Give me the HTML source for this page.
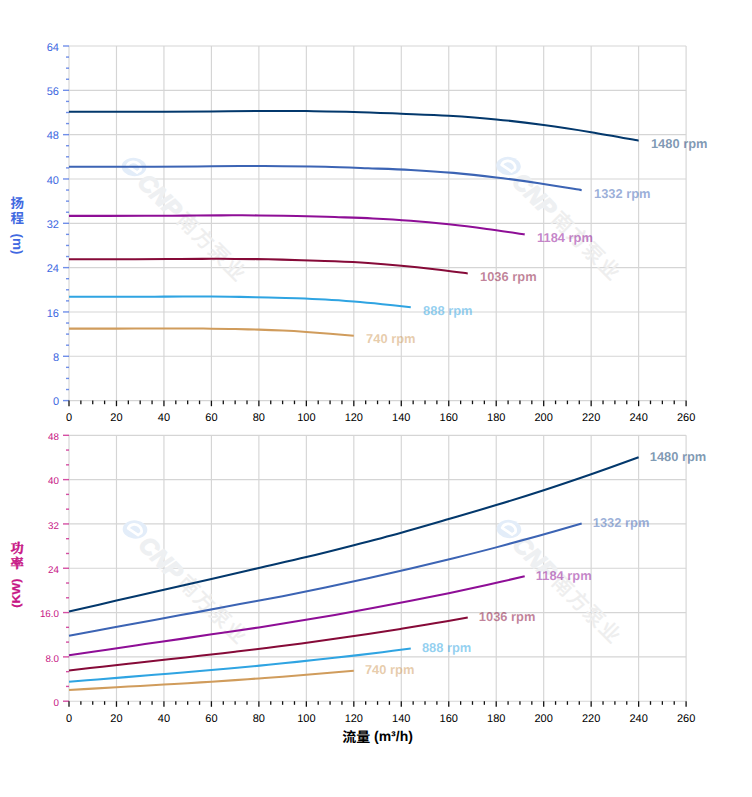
<!DOCTYPE html>
<html><head><meta charset="utf-8"><title>Pump curves</title>
<style>html,body{margin:0;padding:0;background:#fff;}body{width:752px;height:797px;overflow:hidden;}svg{display:block;}text{font-family:"Liberation Sans","Noto Sans CJK SC",sans-serif;text-rendering:geometricPrecision;}</style>
</head><body>
<svg width="752" height="797" viewBox="0 0 752 797">
<rect width="752" height="797" fill="#fff"/>
<line x1="69" y1="46" x2="686.1" y2="46" stroke="#d5d5d5" stroke-width="1.15"/>
<line x1="69" y1="90.33" x2="686.1" y2="90.33" stroke="#d5d5d5" stroke-width="1.15"/>
<line x1="69" y1="134.65" x2="686.1" y2="134.65" stroke="#d5d5d5" stroke-width="1.15"/>
<line x1="69" y1="178.98" x2="686.1" y2="178.98" stroke="#d5d5d5" stroke-width="1.15"/>
<line x1="69" y1="223.3" x2="686.1" y2="223.3" stroke="#d5d5d5" stroke-width="1.15"/>
<line x1="69" y1="267.62" x2="686.1" y2="267.62" stroke="#d5d5d5" stroke-width="1.15"/>
<line x1="69" y1="311.95" x2="686.1" y2="311.95" stroke="#d5d5d5" stroke-width="1.15"/>
<line x1="69" y1="356.28" x2="686.1" y2="356.28" stroke="#d5d5d5" stroke-width="1.15"/>
<line x1="69" y1="400.6" x2="686.1" y2="400.6" stroke="#d5d5d5" stroke-width="1.15"/>
<line x1="69" y1="46" x2="69" y2="400.6" stroke="#d5d5d5" stroke-width="1.15"/>
<line x1="116.47" y1="46" x2="116.47" y2="400.6" stroke="#d5d5d5" stroke-width="1.15"/>
<line x1="163.94" y1="46" x2="163.94" y2="400.6" stroke="#d5d5d5" stroke-width="1.15"/>
<line x1="211.41" y1="46" x2="211.41" y2="400.6" stroke="#d5d5d5" stroke-width="1.15"/>
<line x1="258.88" y1="46" x2="258.88" y2="400.6" stroke="#d5d5d5" stroke-width="1.15"/>
<line x1="306.35" y1="46" x2="306.35" y2="400.6" stroke="#d5d5d5" stroke-width="1.15"/>
<line x1="353.82" y1="46" x2="353.82" y2="400.6" stroke="#d5d5d5" stroke-width="1.15"/>
<line x1="401.28" y1="46" x2="401.28" y2="400.6" stroke="#d5d5d5" stroke-width="1.15"/>
<line x1="448.75" y1="46" x2="448.75" y2="400.6" stroke="#d5d5d5" stroke-width="1.15"/>
<line x1="496.22" y1="46" x2="496.22" y2="400.6" stroke="#d5d5d5" stroke-width="1.15"/>
<line x1="543.69" y1="46" x2="543.69" y2="400.6" stroke="#d5d5d5" stroke-width="1.15"/>
<line x1="591.16" y1="46" x2="591.16" y2="400.6" stroke="#d5d5d5" stroke-width="1.15"/>
<line x1="638.63" y1="46" x2="638.63" y2="400.6" stroke="#d5d5d5" stroke-width="1.15"/>
<line x1="686.1" y1="46" x2="686.1" y2="400.6" stroke="#d5d5d5" stroke-width="1.15"/>
<line x1="63" y1="46" x2="69" y2="46" stroke="#4169E1" stroke-width="1.4" stroke-opacity="0.75"/>
<text x="59" y="50.7" font-size="11" text-anchor="end" fill="#4169E1">64</text>
<line x1="66" y1="57.08" x2="69" y2="57.08" stroke="#4169E1" stroke-width="1.4" stroke-opacity="0.75"/>
<line x1="66" y1="68.16" x2="69" y2="68.16" stroke="#4169E1" stroke-width="1.4" stroke-opacity="0.75"/>
<line x1="66" y1="79.24" x2="69" y2="79.24" stroke="#4169E1" stroke-width="1.4" stroke-opacity="0.75"/>
<line x1="63" y1="90.33" x2="69" y2="90.33" stroke="#4169E1" stroke-width="1.4" stroke-opacity="0.75"/>
<text x="59" y="95.03" font-size="11" text-anchor="end" fill="#4169E1">56</text>
<line x1="66" y1="101.41" x2="69" y2="101.41" stroke="#4169E1" stroke-width="1.4" stroke-opacity="0.75"/>
<line x1="66" y1="112.49" x2="69" y2="112.49" stroke="#4169E1" stroke-width="1.4" stroke-opacity="0.75"/>
<line x1="66" y1="123.57" x2="69" y2="123.57" stroke="#4169E1" stroke-width="1.4" stroke-opacity="0.75"/>
<line x1="63" y1="134.65" x2="69" y2="134.65" stroke="#4169E1" stroke-width="1.4" stroke-opacity="0.75"/>
<text x="59" y="139.35" font-size="11" text-anchor="end" fill="#4169E1">48</text>
<line x1="66" y1="145.73" x2="69" y2="145.73" stroke="#4169E1" stroke-width="1.4" stroke-opacity="0.75"/>
<line x1="66" y1="156.81" x2="69" y2="156.81" stroke="#4169E1" stroke-width="1.4" stroke-opacity="0.75"/>
<line x1="66" y1="167.89" x2="69" y2="167.89" stroke="#4169E1" stroke-width="1.4" stroke-opacity="0.75"/>
<line x1="63" y1="178.98" x2="69" y2="178.98" stroke="#4169E1" stroke-width="1.4" stroke-opacity="0.75"/>
<text x="59" y="183.68" font-size="11" text-anchor="end" fill="#4169E1">40</text>
<line x1="66" y1="190.06" x2="69" y2="190.06" stroke="#4169E1" stroke-width="1.4" stroke-opacity="0.75"/>
<line x1="66" y1="201.14" x2="69" y2="201.14" stroke="#4169E1" stroke-width="1.4" stroke-opacity="0.75"/>
<line x1="66" y1="212.22" x2="69" y2="212.22" stroke="#4169E1" stroke-width="1.4" stroke-opacity="0.75"/>
<line x1="63" y1="223.3" x2="69" y2="223.3" stroke="#4169E1" stroke-width="1.4" stroke-opacity="0.75"/>
<text x="59" y="228" font-size="11" text-anchor="end" fill="#4169E1">32</text>
<line x1="66" y1="234.38" x2="69" y2="234.38" stroke="#4169E1" stroke-width="1.4" stroke-opacity="0.75"/>
<line x1="66" y1="245.46" x2="69" y2="245.46" stroke="#4169E1" stroke-width="1.4" stroke-opacity="0.75"/>
<line x1="66" y1="256.54" x2="69" y2="256.54" stroke="#4169E1" stroke-width="1.4" stroke-opacity="0.75"/>
<line x1="63" y1="267.62" x2="69" y2="267.62" stroke="#4169E1" stroke-width="1.4" stroke-opacity="0.75"/>
<text x="59" y="272.32" font-size="11" text-anchor="end" fill="#4169E1">24</text>
<line x1="66" y1="278.71" x2="69" y2="278.71" stroke="#4169E1" stroke-width="1.4" stroke-opacity="0.75"/>
<line x1="66" y1="289.79" x2="69" y2="289.79" stroke="#4169E1" stroke-width="1.4" stroke-opacity="0.75"/>
<line x1="66" y1="300.87" x2="69" y2="300.87" stroke="#4169E1" stroke-width="1.4" stroke-opacity="0.75"/>
<line x1="63" y1="311.95" x2="69" y2="311.95" stroke="#4169E1" stroke-width="1.4" stroke-opacity="0.75"/>
<text x="59" y="316.65" font-size="11" text-anchor="end" fill="#4169E1">16</text>
<line x1="66" y1="323.03" x2="69" y2="323.03" stroke="#4169E1" stroke-width="1.4" stroke-opacity="0.75"/>
<line x1="66" y1="334.11" x2="69" y2="334.11" stroke="#4169E1" stroke-width="1.4" stroke-opacity="0.75"/>
<line x1="66" y1="345.19" x2="69" y2="345.19" stroke="#4169E1" stroke-width="1.4" stroke-opacity="0.75"/>
<line x1="63" y1="356.28" x2="69" y2="356.28" stroke="#4169E1" stroke-width="1.4" stroke-opacity="0.75"/>
<text x="59" y="360.98" font-size="11" text-anchor="end" fill="#4169E1">8</text>
<line x1="66" y1="367.36" x2="69" y2="367.36" stroke="#4169E1" stroke-width="1.4" stroke-opacity="0.75"/>
<line x1="66" y1="378.44" x2="69" y2="378.44" stroke="#4169E1" stroke-width="1.4" stroke-opacity="0.75"/>
<line x1="66" y1="389.52" x2="69" y2="389.52" stroke="#4169E1" stroke-width="1.4" stroke-opacity="0.75"/>
<line x1="63" y1="400.6" x2="69" y2="400.6" stroke="#4169E1" stroke-width="1.4" stroke-opacity="0.75"/>
<text x="59" y="405.3" font-size="11" text-anchor="end" fill="#4169E1">0</text>
<line x1="69" y1="400.6" x2="69" y2="406.2" stroke="#111" stroke-width="1.3"/>
<text x="69" y="421" font-size="11" text-anchor="middle" fill="#000">0</text>
<line x1="80.87" y1="400.6" x2="80.87" y2="404.2" stroke="#111" stroke-width="1.3"/>
<line x1="92.73" y1="400.6" x2="92.73" y2="404.2" stroke="#111" stroke-width="1.3"/>
<line x1="104.6" y1="400.6" x2="104.6" y2="404.2" stroke="#111" stroke-width="1.3"/>
<line x1="116.47" y1="400.6" x2="116.47" y2="406.2" stroke="#111" stroke-width="1.3"/>
<text x="116.47" y="421" font-size="11" text-anchor="middle" fill="#000">20</text>
<line x1="128.34" y1="400.6" x2="128.34" y2="404.2" stroke="#111" stroke-width="1.3"/>
<line x1="140.2" y1="400.6" x2="140.2" y2="404.2" stroke="#111" stroke-width="1.3"/>
<line x1="152.07" y1="400.6" x2="152.07" y2="404.2" stroke="#111" stroke-width="1.3"/>
<line x1="163.94" y1="400.6" x2="163.94" y2="406.2" stroke="#111" stroke-width="1.3"/>
<text x="163.94" y="421" font-size="11" text-anchor="middle" fill="#000">40</text>
<line x1="175.81" y1="400.6" x2="175.81" y2="404.2" stroke="#111" stroke-width="1.3"/>
<line x1="187.67" y1="400.6" x2="187.67" y2="404.2" stroke="#111" stroke-width="1.3"/>
<line x1="199.54" y1="400.6" x2="199.54" y2="404.2" stroke="#111" stroke-width="1.3"/>
<line x1="211.41" y1="400.6" x2="211.41" y2="406.2" stroke="#111" stroke-width="1.3"/>
<text x="211.41" y="421" font-size="11" text-anchor="middle" fill="#000">60</text>
<line x1="223.28" y1="400.6" x2="223.28" y2="404.2" stroke="#111" stroke-width="1.3"/>
<line x1="235.14" y1="400.6" x2="235.14" y2="404.2" stroke="#111" stroke-width="1.3"/>
<line x1="247.01" y1="400.6" x2="247.01" y2="404.2" stroke="#111" stroke-width="1.3"/>
<line x1="258.88" y1="400.6" x2="258.88" y2="406.2" stroke="#111" stroke-width="1.3"/>
<text x="258.88" y="421" font-size="11" text-anchor="middle" fill="#000">80</text>
<line x1="270.74" y1="400.6" x2="270.74" y2="404.2" stroke="#111" stroke-width="1.3"/>
<line x1="282.61" y1="400.6" x2="282.61" y2="404.2" stroke="#111" stroke-width="1.3"/>
<line x1="294.48" y1="400.6" x2="294.48" y2="404.2" stroke="#111" stroke-width="1.3"/>
<line x1="306.35" y1="400.6" x2="306.35" y2="406.2" stroke="#111" stroke-width="1.3"/>
<text x="306.35" y="421" font-size="11" text-anchor="middle" fill="#000">100</text>
<line x1="318.21" y1="400.6" x2="318.21" y2="404.2" stroke="#111" stroke-width="1.3"/>
<line x1="330.08" y1="400.6" x2="330.08" y2="404.2" stroke="#111" stroke-width="1.3"/>
<line x1="341.95" y1="400.6" x2="341.95" y2="404.2" stroke="#111" stroke-width="1.3"/>
<line x1="353.82" y1="400.6" x2="353.82" y2="406.2" stroke="#111" stroke-width="1.3"/>
<text x="353.82" y="421" font-size="11" text-anchor="middle" fill="#000">120</text>
<line x1="365.68" y1="400.6" x2="365.68" y2="404.2" stroke="#111" stroke-width="1.3"/>
<line x1="377.55" y1="400.6" x2="377.55" y2="404.2" stroke="#111" stroke-width="1.3"/>
<line x1="389.42" y1="400.6" x2="389.42" y2="404.2" stroke="#111" stroke-width="1.3"/>
<line x1="401.28" y1="400.6" x2="401.28" y2="406.2" stroke="#111" stroke-width="1.3"/>
<text x="401.28" y="421" font-size="11" text-anchor="middle" fill="#000">140</text>
<line x1="413.15" y1="400.6" x2="413.15" y2="404.2" stroke="#111" stroke-width="1.3"/>
<line x1="425.02" y1="400.6" x2="425.02" y2="404.2" stroke="#111" stroke-width="1.3"/>
<line x1="436.89" y1="400.6" x2="436.89" y2="404.2" stroke="#111" stroke-width="1.3"/>
<line x1="448.75" y1="400.6" x2="448.75" y2="406.2" stroke="#111" stroke-width="1.3"/>
<text x="448.75" y="421" font-size="11" text-anchor="middle" fill="#000">160</text>
<line x1="460.62" y1="400.6" x2="460.62" y2="404.2" stroke="#111" stroke-width="1.3"/>
<line x1="472.49" y1="400.6" x2="472.49" y2="404.2" stroke="#111" stroke-width="1.3"/>
<line x1="484.36" y1="400.6" x2="484.36" y2="404.2" stroke="#111" stroke-width="1.3"/>
<line x1="496.22" y1="400.6" x2="496.22" y2="406.2" stroke="#111" stroke-width="1.3"/>
<text x="496.22" y="421" font-size="11" text-anchor="middle" fill="#000">180</text>
<line x1="508.09" y1="400.6" x2="508.09" y2="404.2" stroke="#111" stroke-width="1.3"/>
<line x1="519.96" y1="400.6" x2="519.96" y2="404.2" stroke="#111" stroke-width="1.3"/>
<line x1="531.83" y1="400.6" x2="531.83" y2="404.2" stroke="#111" stroke-width="1.3"/>
<line x1="543.69" y1="400.6" x2="543.69" y2="406.2" stroke="#111" stroke-width="1.3"/>
<text x="543.69" y="421" font-size="11" text-anchor="middle" fill="#000">200</text>
<line x1="555.56" y1="400.6" x2="555.56" y2="404.2" stroke="#111" stroke-width="1.3"/>
<line x1="567.43" y1="400.6" x2="567.43" y2="404.2" stroke="#111" stroke-width="1.3"/>
<line x1="579.29" y1="400.6" x2="579.29" y2="404.2" stroke="#111" stroke-width="1.3"/>
<line x1="591.16" y1="400.6" x2="591.16" y2="406.2" stroke="#111" stroke-width="1.3"/>
<text x="591.16" y="421" font-size="11" text-anchor="middle" fill="#000">220</text>
<line x1="603.03" y1="400.6" x2="603.03" y2="404.2" stroke="#111" stroke-width="1.3"/>
<line x1="614.9" y1="400.6" x2="614.9" y2="404.2" stroke="#111" stroke-width="1.3"/>
<line x1="626.76" y1="400.6" x2="626.76" y2="404.2" stroke="#111" stroke-width="1.3"/>
<line x1="638.63" y1="400.6" x2="638.63" y2="406.2" stroke="#111" stroke-width="1.3"/>
<text x="638.63" y="421" font-size="11" text-anchor="middle" fill="#000">240</text>
<line x1="650.5" y1="400.6" x2="650.5" y2="404.2" stroke="#111" stroke-width="1.3"/>
<line x1="662.37" y1="400.6" x2="662.37" y2="404.2" stroke="#111" stroke-width="1.3"/>
<line x1="674.23" y1="400.6" x2="674.23" y2="404.2" stroke="#111" stroke-width="1.3"/>
<line x1="686.1" y1="400.6" x2="686.1" y2="406.2" stroke="#111" stroke-width="1.3"/>
<text x="686.1" y="421" font-size="11" text-anchor="middle" fill="#000">260</text>
<g transform="translate(134 167) rotate(45)"><g transform="skewX(-17)"><circle cx="0" cy="0" r="10.6" fill="#e3edf9"/></g><path d="M6.2 1.7 L-5.7 4.0 C-7.6 -1 -3 -5.6 1.5 -5.4 C5 -5.2 7.6 -3 6.4 0.0" fill="none" stroke="#fff" stroke-width="2.7" stroke-linecap="round" stroke-linejoin="round"/><text x="13.5" y="10.2" font-size="24" font-weight="bold" font-style="italic" fill="#eef0f2" stroke="#eef0f2" stroke-width="1.3" letter-spacing="0">CNP</text><text x="67.8 89.8 111.8 133.8" y="8.8" font-size="20.4" fill="#eeeeee" stroke="#eeeeee" stroke-width="0.45" stroke-linejoin="round">南方泵业</text></g>
<g transform="translate(508.5 166) rotate(45)"><g transform="skewX(-17)"><circle cx="0" cy="0" r="10.6" fill="#e3edf9"/></g><path d="M6.2 1.7 L-5.7 4.0 C-7.6 -1 -3 -5.6 1.5 -5.4 C5 -5.2 7.6 -3 6.4 0.0" fill="none" stroke="#fff" stroke-width="2.7" stroke-linecap="round" stroke-linejoin="round"/><text x="13.5" y="10.2" font-size="24" font-weight="bold" font-style="italic" fill="#eef0f2" stroke="#eef0f2" stroke-width="1.3" letter-spacing="0">CNP</text><text x="67.8 89.8 111.8 133.8" y="8.8" font-size="20.4" fill="#eeeeee" stroke="#eeeeee" stroke-width="0.45" stroke-linejoin="round">南方泵业</text></g>
<path d="M69 111.8 C76.91 111.8 100.65 111.81 116.47 111.8 C132.29 111.79 148.12 111.82 163.94 111.75 C179.76 111.68 195.58 111.53 211.41 111.4 C227.23 111.28 247.41 111.08 258.88 111 C270.35 110.92 272.33 110.88 280.24 110.9 C288.15 110.92 294.08 110.93 306.35 111.1 C318.61 111.27 337.99 111.47 353.82 111.9 C369.64 112.33 385.46 113.05 401.28 113.7 C417.11 114.35 432.93 114.85 448.75 115.8 C464.58 116.75 480.4 117.87 496.22 119.4 C512.05 120.93 527.87 122.87 543.69 125 C559.52 127.13 575.34 129.58 591.16 132.2 C606.98 134.82 630.72 139.28 638.63 140.7" fill="none" stroke="#03386C" stroke-width="2.05" stroke-linecap="butt"/>
<text x="650.93" y="148.1" font-size="12.9" font-weight="bold" fill="#03386C" fill-opacity="0.52">1480 rpm</text>
<path d="M69 166.73 C76.12 166.73 97.48 166.74 111.72 166.73 C125.96 166.72 140.2 166.74 154.44 166.69 C168.69 166.63 182.93 166.51 197.17 166.41 C211.41 166.3 229.56 166.15 239.89 166.08 C250.21 166.01 251.99 165.99 259.11 166 C266.23 166.01 271.57 166.03 282.61 166.16 C293.65 166.3 311.09 166.46 325.33 166.81 C339.57 167.16 353.82 167.74 368.06 168.27 C382.3 168.79 396.54 169.2 410.78 169.97 C425.02 170.74 439.26 171.64 453.5 172.89 C467.74 174.13 481.98 175.69 496.22 177.42 C510.46 179.15 524.7 181.13 538.95 183.25 C553.19 185.37 574.55 188.99 581.67 190.14" fill="none" stroke="#3C64B4" stroke-width="2.05" stroke-linecap="butt"/>
<text x="593.97" y="197.54" font-size="12.9" font-weight="bold" fill="#3C64B4" fill-opacity="0.52">1332 rpm</text>
<path d="M69 215.88 C75.33 215.88 94.32 215.88 106.98 215.88 C119.63 215.87 132.29 215.89 144.95 215.84 C157.61 215.8 170.27 215.7 182.93 215.62 C195.58 215.54 211.72 215.42 220.9 215.36 C230.08 215.31 231.66 215.29 237.99 215.3 C244.32 215.31 249.07 215.32 258.88 215.43 C268.69 215.53 284.19 215.66 296.85 215.94 C309.51 216.22 322.17 216.68 334.83 217.09 C347.49 217.51 360.14 217.83 372.8 218.44 C385.46 219.04 398.12 219.76 410.78 220.74 C423.44 221.72 436.1 222.96 448.75 224.32 C461.41 225.69 474.07 227.26 486.73 228.93 C499.39 230.61 518.38 233.47 524.7 234.37" fill="none" stroke="#8E0E96" stroke-width="2.05" stroke-linecap="butt"/>
<text x="537" y="241.77" font-size="12.9" font-weight="bold" fill="#8E0E96" fill-opacity="0.52">1184 rpm</text>
<path d="M69 259.24 C74.54 259.24 91.15 259.25 102.23 259.24 C113.3 259.24 124.38 259.25 135.46 259.22 C146.53 259.18 157.61 259.11 168.69 259.05 C179.76 258.98 193.88 258.89 201.91 258.85 C209.94 258.81 211.33 258.79 216.87 258.8 C222.4 258.81 226.56 258.82 235.14 258.9 C243.73 258.98 257.29 259.08 268.37 259.29 C279.45 259.5 290.52 259.85 301.6 260.17 C312.68 260.49 323.75 260.74 334.83 261.2 C345.9 261.67 356.98 262.21 368.06 262.97 C379.13 263.72 390.21 264.66 401.28 265.71 C412.36 266.75 423.44 267.95 434.51 269.24 C445.59 270.52 462.2 272.71 467.74 273.4" fill="none" stroke="#860A38" stroke-width="2.05" stroke-linecap="butt"/>
<text x="480.04" y="280.8" font-size="12.9" font-weight="bold" fill="#860A38" fill-opacity="0.52">1036 rpm</text>
<path d="M69 296.82 C73.75 296.82 87.99 296.83 97.48 296.82 C106.98 296.82 116.47 296.83 125.96 296.81 C135.46 296.78 144.95 296.73 154.44 296.68 C163.94 296.63 176.04 296.57 182.93 296.54 C189.81 296.51 191 296.49 195.74 296.5 C200.49 296.51 204.05 296.51 211.41 296.57 C218.77 296.63 230.4 296.7 239.89 296.86 C249.38 297.02 258.88 297.27 268.37 297.51 C277.86 297.74 287.36 297.92 296.85 298.26 C306.35 298.61 315.84 299.01 325.33 299.56 C334.83 300.11 344.32 300.81 353.82 301.58 C363.31 302.34 372.8 303.23 382.3 304.17 C391.79 305.11 406.03 306.72 410.78 307.23" fill="none" stroke="#2FA4E2" stroke-width="2.05" stroke-linecap="butt"/>
<text x="423.08" y="314.63" font-size="12.9" font-weight="bold" fill="#2FA4E2" fill-opacity="0.52">888 rpm</text>
<path d="M69 328.63 C72.96 328.63 84.82 328.63 92.73 328.63 C100.65 328.62 108.56 328.63 116.47 328.61 C124.38 328.6 132.29 328.56 140.2 328.53 C148.12 328.49 158.2 328.45 163.94 328.43 C169.67 328.4 170.66 328.4 174.62 328.4 C178.57 328.4 181.54 328.41 187.67 328.45 C193.8 328.49 203.5 328.54 211.41 328.65 C219.32 328.76 227.23 328.94 235.14 329.1 C243.05 329.26 250.97 329.39 258.88 329.63 C266.79 329.86 274.7 330.14 282.61 330.53 C290.52 330.91 298.43 331.39 306.35 331.93 C314.26 332.46 322.17 333.07 330.08 333.73 C337.99 334.38 349.86 335.5 353.82 335.85" fill="none" stroke="#D09C5C" stroke-width="2.05" stroke-linecap="butt"/>
<text x="366.12" y="343.25" font-size="12.9" font-weight="bold" fill="#D09C5C" fill-opacity="0.52">740 rpm</text>
<line x1="69" y1="435.3" x2="686.1" y2="435.3" stroke="#d5d5d5" stroke-width="1.15"/>
<line x1="69" y1="479.62" x2="686.1" y2="479.62" stroke="#d5d5d5" stroke-width="1.15"/>
<line x1="69" y1="523.93" x2="686.1" y2="523.93" stroke="#d5d5d5" stroke-width="1.15"/>
<line x1="69" y1="568.25" x2="686.1" y2="568.25" stroke="#d5d5d5" stroke-width="1.15"/>
<line x1="69" y1="612.57" x2="686.1" y2="612.57" stroke="#d5d5d5" stroke-width="1.15"/>
<line x1="69" y1="656.88" x2="686.1" y2="656.88" stroke="#d5d5d5" stroke-width="1.15"/>
<line x1="69" y1="701.2" x2="686.1" y2="701.2" stroke="#d5d5d5" stroke-width="1.15"/>
<line x1="69" y1="435.3" x2="69" y2="701.2" stroke="#d5d5d5" stroke-width="1.15"/>
<line x1="116.47" y1="435.3" x2="116.47" y2="701.2" stroke="#d5d5d5" stroke-width="1.15"/>
<line x1="163.94" y1="435.3" x2="163.94" y2="701.2" stroke="#d5d5d5" stroke-width="1.15"/>
<line x1="211.41" y1="435.3" x2="211.41" y2="701.2" stroke="#d5d5d5" stroke-width="1.15"/>
<line x1="258.88" y1="435.3" x2="258.88" y2="701.2" stroke="#d5d5d5" stroke-width="1.15"/>
<line x1="306.35" y1="435.3" x2="306.35" y2="701.2" stroke="#d5d5d5" stroke-width="1.15"/>
<line x1="353.82" y1="435.3" x2="353.82" y2="701.2" stroke="#d5d5d5" stroke-width="1.15"/>
<line x1="401.28" y1="435.3" x2="401.28" y2="701.2" stroke="#d5d5d5" stroke-width="1.15"/>
<line x1="448.75" y1="435.3" x2="448.75" y2="701.2" stroke="#d5d5d5" stroke-width="1.15"/>
<line x1="496.22" y1="435.3" x2="496.22" y2="701.2" stroke="#d5d5d5" stroke-width="1.15"/>
<line x1="543.69" y1="435.3" x2="543.69" y2="701.2" stroke="#d5d5d5" stroke-width="1.15"/>
<line x1="591.16" y1="435.3" x2="591.16" y2="701.2" stroke="#d5d5d5" stroke-width="1.15"/>
<line x1="638.63" y1="435.3" x2="638.63" y2="701.2" stroke="#d5d5d5" stroke-width="1.15"/>
<line x1="686.1" y1="435.3" x2="686.1" y2="701.2" stroke="#d5d5d5" stroke-width="1.15"/>
<line x1="63" y1="435.3" x2="69" y2="435.3" stroke="#C71585" stroke-width="1.4" stroke-opacity="0.75"/>
<text x="59" y="440.1" font-size="9.8" text-anchor="end" fill="#C71585">48</text>
<line x1="66" y1="450.07" x2="69" y2="450.07" stroke="#C71585" stroke-width="1.4" stroke-opacity="0.75"/>
<line x1="66" y1="464.84" x2="69" y2="464.84" stroke="#C71585" stroke-width="1.4" stroke-opacity="0.75"/>
<line x1="63" y1="479.62" x2="69" y2="479.62" stroke="#C71585" stroke-width="1.4" stroke-opacity="0.75"/>
<text x="59" y="484.42" font-size="9.8" text-anchor="end" fill="#C71585">40</text>
<line x1="66" y1="494.39" x2="69" y2="494.39" stroke="#C71585" stroke-width="1.4" stroke-opacity="0.75"/>
<line x1="66" y1="509.16" x2="69" y2="509.16" stroke="#C71585" stroke-width="1.4" stroke-opacity="0.75"/>
<line x1="63" y1="523.93" x2="69" y2="523.93" stroke="#C71585" stroke-width="1.4" stroke-opacity="0.75"/>
<text x="59" y="528.73" font-size="9.8" text-anchor="end" fill="#C71585">32</text>
<line x1="66" y1="538.71" x2="69" y2="538.71" stroke="#C71585" stroke-width="1.4" stroke-opacity="0.75"/>
<line x1="66" y1="553.48" x2="69" y2="553.48" stroke="#C71585" stroke-width="1.4" stroke-opacity="0.75"/>
<line x1="63" y1="568.25" x2="69" y2="568.25" stroke="#C71585" stroke-width="1.4" stroke-opacity="0.75"/>
<text x="59" y="573.05" font-size="9.8" text-anchor="end" fill="#C71585">24</text>
<line x1="66" y1="583.02" x2="69" y2="583.02" stroke="#C71585" stroke-width="1.4" stroke-opacity="0.75"/>
<line x1="66" y1="597.79" x2="69" y2="597.79" stroke="#C71585" stroke-width="1.4" stroke-opacity="0.75"/>
<line x1="63" y1="612.57" x2="69" y2="612.57" stroke="#C71585" stroke-width="1.4" stroke-opacity="0.75"/>
<text x="59" y="617.37" font-size="9.8" text-anchor="end" fill="#C71585">16.0</text>
<line x1="66" y1="627.34" x2="69" y2="627.34" stroke="#C71585" stroke-width="1.4" stroke-opacity="0.75"/>
<line x1="66" y1="642.11" x2="69" y2="642.11" stroke="#C71585" stroke-width="1.4" stroke-opacity="0.75"/>
<line x1="63" y1="656.88" x2="69" y2="656.88" stroke="#C71585" stroke-width="1.4" stroke-opacity="0.75"/>
<text x="59" y="661.68" font-size="9.8" text-anchor="end" fill="#C71585">8.0</text>
<line x1="66" y1="671.66" x2="69" y2="671.66" stroke="#C71585" stroke-width="1.4" stroke-opacity="0.75"/>
<line x1="66" y1="686.43" x2="69" y2="686.43" stroke="#C71585" stroke-width="1.4" stroke-opacity="0.75"/>
<line x1="63" y1="701.2" x2="69" y2="701.2" stroke="#C71585" stroke-width="1.4" stroke-opacity="0.75"/>
<text x="59" y="706" font-size="9.8" text-anchor="end" fill="#C71585">0</text>
<line x1="69" y1="701.2" x2="69" y2="706.8" stroke="#111" stroke-width="1.3"/>
<text x="69" y="721.6" font-size="11" text-anchor="middle" fill="#000">0</text>
<line x1="80.87" y1="701.2" x2="80.87" y2="704.8" stroke="#111" stroke-width="1.3"/>
<line x1="92.73" y1="701.2" x2="92.73" y2="704.8" stroke="#111" stroke-width="1.3"/>
<line x1="104.6" y1="701.2" x2="104.6" y2="704.8" stroke="#111" stroke-width="1.3"/>
<line x1="116.47" y1="701.2" x2="116.47" y2="706.8" stroke="#111" stroke-width="1.3"/>
<text x="116.47" y="721.6" font-size="11" text-anchor="middle" fill="#000">20</text>
<line x1="128.34" y1="701.2" x2="128.34" y2="704.8" stroke="#111" stroke-width="1.3"/>
<line x1="140.2" y1="701.2" x2="140.2" y2="704.8" stroke="#111" stroke-width="1.3"/>
<line x1="152.07" y1="701.2" x2="152.07" y2="704.8" stroke="#111" stroke-width="1.3"/>
<line x1="163.94" y1="701.2" x2="163.94" y2="706.8" stroke="#111" stroke-width="1.3"/>
<text x="163.94" y="721.6" font-size="11" text-anchor="middle" fill="#000">40</text>
<line x1="175.81" y1="701.2" x2="175.81" y2="704.8" stroke="#111" stroke-width="1.3"/>
<line x1="187.67" y1="701.2" x2="187.67" y2="704.8" stroke="#111" stroke-width="1.3"/>
<line x1="199.54" y1="701.2" x2="199.54" y2="704.8" stroke="#111" stroke-width="1.3"/>
<line x1="211.41" y1="701.2" x2="211.41" y2="706.8" stroke="#111" stroke-width="1.3"/>
<text x="211.41" y="721.6" font-size="11" text-anchor="middle" fill="#000">60</text>
<line x1="223.28" y1="701.2" x2="223.28" y2="704.8" stroke="#111" stroke-width="1.3"/>
<line x1="235.14" y1="701.2" x2="235.14" y2="704.8" stroke="#111" stroke-width="1.3"/>
<line x1="247.01" y1="701.2" x2="247.01" y2="704.8" stroke="#111" stroke-width="1.3"/>
<line x1="258.88" y1="701.2" x2="258.88" y2="706.8" stroke="#111" stroke-width="1.3"/>
<text x="258.88" y="721.6" font-size="11" text-anchor="middle" fill="#000">80</text>
<line x1="270.74" y1="701.2" x2="270.74" y2="704.8" stroke="#111" stroke-width="1.3"/>
<line x1="282.61" y1="701.2" x2="282.61" y2="704.8" stroke="#111" stroke-width="1.3"/>
<line x1="294.48" y1="701.2" x2="294.48" y2="704.8" stroke="#111" stroke-width="1.3"/>
<line x1="306.35" y1="701.2" x2="306.35" y2="706.8" stroke="#111" stroke-width="1.3"/>
<text x="306.35" y="721.6" font-size="11" text-anchor="middle" fill="#000">100</text>
<line x1="318.21" y1="701.2" x2="318.21" y2="704.8" stroke="#111" stroke-width="1.3"/>
<line x1="330.08" y1="701.2" x2="330.08" y2="704.8" stroke="#111" stroke-width="1.3"/>
<line x1="341.95" y1="701.2" x2="341.95" y2="704.8" stroke="#111" stroke-width="1.3"/>
<line x1="353.82" y1="701.2" x2="353.82" y2="706.8" stroke="#111" stroke-width="1.3"/>
<text x="353.82" y="721.6" font-size="11" text-anchor="middle" fill="#000">120</text>
<line x1="365.68" y1="701.2" x2="365.68" y2="704.8" stroke="#111" stroke-width="1.3"/>
<line x1="377.55" y1="701.2" x2="377.55" y2="704.8" stroke="#111" stroke-width="1.3"/>
<line x1="389.42" y1="701.2" x2="389.42" y2="704.8" stroke="#111" stroke-width="1.3"/>
<line x1="401.28" y1="701.2" x2="401.28" y2="706.8" stroke="#111" stroke-width="1.3"/>
<text x="401.28" y="721.6" font-size="11" text-anchor="middle" fill="#000">140</text>
<line x1="413.15" y1="701.2" x2="413.15" y2="704.8" stroke="#111" stroke-width="1.3"/>
<line x1="425.02" y1="701.2" x2="425.02" y2="704.8" stroke="#111" stroke-width="1.3"/>
<line x1="436.89" y1="701.2" x2="436.89" y2="704.8" stroke="#111" stroke-width="1.3"/>
<line x1="448.75" y1="701.2" x2="448.75" y2="706.8" stroke="#111" stroke-width="1.3"/>
<text x="448.75" y="721.6" font-size="11" text-anchor="middle" fill="#000">160</text>
<line x1="460.62" y1="701.2" x2="460.62" y2="704.8" stroke="#111" stroke-width="1.3"/>
<line x1="472.49" y1="701.2" x2="472.49" y2="704.8" stroke="#111" stroke-width="1.3"/>
<line x1="484.36" y1="701.2" x2="484.36" y2="704.8" stroke="#111" stroke-width="1.3"/>
<line x1="496.22" y1="701.2" x2="496.22" y2="706.8" stroke="#111" stroke-width="1.3"/>
<text x="496.22" y="721.6" font-size="11" text-anchor="middle" fill="#000">180</text>
<line x1="508.09" y1="701.2" x2="508.09" y2="704.8" stroke="#111" stroke-width="1.3"/>
<line x1="519.96" y1="701.2" x2="519.96" y2="704.8" stroke="#111" stroke-width="1.3"/>
<line x1="531.83" y1="701.2" x2="531.83" y2="704.8" stroke="#111" stroke-width="1.3"/>
<line x1="543.69" y1="701.2" x2="543.69" y2="706.8" stroke="#111" stroke-width="1.3"/>
<text x="543.69" y="721.6" font-size="11" text-anchor="middle" fill="#000">200</text>
<line x1="555.56" y1="701.2" x2="555.56" y2="704.8" stroke="#111" stroke-width="1.3"/>
<line x1="567.43" y1="701.2" x2="567.43" y2="704.8" stroke="#111" stroke-width="1.3"/>
<line x1="579.29" y1="701.2" x2="579.29" y2="704.8" stroke="#111" stroke-width="1.3"/>
<line x1="591.16" y1="701.2" x2="591.16" y2="706.8" stroke="#111" stroke-width="1.3"/>
<text x="591.16" y="721.6" font-size="11" text-anchor="middle" fill="#000">220</text>
<line x1="603.03" y1="701.2" x2="603.03" y2="704.8" stroke="#111" stroke-width="1.3"/>
<line x1="614.9" y1="701.2" x2="614.9" y2="704.8" stroke="#111" stroke-width="1.3"/>
<line x1="626.76" y1="701.2" x2="626.76" y2="704.8" stroke="#111" stroke-width="1.3"/>
<line x1="638.63" y1="701.2" x2="638.63" y2="706.8" stroke="#111" stroke-width="1.3"/>
<text x="638.63" y="721.6" font-size="11" text-anchor="middle" fill="#000">240</text>
<line x1="650.5" y1="701.2" x2="650.5" y2="704.8" stroke="#111" stroke-width="1.3"/>
<line x1="662.37" y1="701.2" x2="662.37" y2="704.8" stroke="#111" stroke-width="1.3"/>
<line x1="674.23" y1="701.2" x2="674.23" y2="704.8" stroke="#111" stroke-width="1.3"/>
<line x1="686.1" y1="701.2" x2="686.1" y2="706.8" stroke="#111" stroke-width="1.3"/>
<text x="686.1" y="721.6" font-size="11" text-anchor="middle" fill="#000">260</text>
<g transform="translate(135 529.5) rotate(45)"><g transform="skewX(-17)"><circle cx="0" cy="0" r="10.6" fill="#e3edf9"/></g><path d="M6.2 1.7 L-5.7 4.0 C-7.6 -1 -3 -5.6 1.5 -5.4 C5 -5.2 7.6 -3 6.4 0.0" fill="none" stroke="#fff" stroke-width="2.7" stroke-linecap="round" stroke-linejoin="round"/><text x="13.5" y="10.2" font-size="24" font-weight="bold" font-style="italic" fill="#eef0f2" stroke="#eef0f2" stroke-width="1.3" letter-spacing="0">CNP</text><text x="67.8 89.8 111.8 133.8" y="8.8" font-size="20.4" fill="#eeeeee" stroke="#eeeeee" stroke-width="0.45" stroke-linejoin="round">南方泵业</text></g>
<g transform="translate(509 529) rotate(45)"><g transform="skewX(-17)"><circle cx="0" cy="0" r="10.6" fill="#e3edf9"/></g><path d="M6.2 1.7 L-5.7 4.0 C-7.6 -1 -3 -5.6 1.5 -5.4 C5 -5.2 7.6 -3 6.4 0.0" fill="none" stroke="#fff" stroke-width="2.7" stroke-linecap="round" stroke-linejoin="round"/><text x="13.5" y="10.2" font-size="24" font-weight="bold" font-style="italic" fill="#eef0f2" stroke="#eef0f2" stroke-width="1.3" letter-spacing="0">CNP</text><text x="67.8 89.8 111.8 133.8" y="8.8" font-size="20.4" fill="#eeeeee" stroke="#eeeeee" stroke-width="0.45" stroke-linejoin="round">南方泵业</text></g>
<path d="M69 611.5 C76.91 609.68 100.65 604.23 116.47 600.6 C132.29 596.97 148.12 593.3 163.94 589.7 C179.76 586.1 195.58 582.62 211.41 579 C227.23 575.38 243.05 571.65 258.88 568 C274.7 564.35 290.52 560.9 306.35 557.1 C322.17 553.3 337.99 549.27 353.82 545.2 C369.64 541.13 385.46 537.05 401.28 532.7 C417.11 528.35 432.93 523.7 448.75 519.1 C464.58 514.5 480.4 509.92 496.22 505.1 C512.05 500.28 527.87 495.35 543.69 490.2 C559.52 485.05 575.34 479.68 591.16 474.2 C606.98 468.72 630.72 460.12 638.63 457.3" fill="none" stroke="#03386C" stroke-width="2.05" stroke-linecap="butt"/>
<text x="649.73" y="460.5" font-size="12.9" font-weight="bold" fill="#03386C" fill-opacity="0.52">1480 rpm</text>
<path d="M69 635.81 C76.12 634.48 97.48 630.51 111.72 627.86 C125.96 625.21 140.2 622.54 154.44 619.92 C168.69 617.29 182.93 614.75 197.17 612.12 C211.41 609.48 225.65 606.76 239.89 604.1 C254.13 601.44 268.37 598.92 282.61 596.15 C296.85 593.38 311.09 590.44 325.33 587.48 C339.57 584.51 353.82 581.53 368.06 578.36 C382.3 575.19 396.54 571.8 410.78 568.45 C425.02 565.1 439.26 561.75 453.5 558.24 C467.74 554.73 481.98 551.14 496.22 547.38 C510.46 543.63 524.7 539.71 538.95 535.72 C553.19 531.72 574.55 525.45 581.67 523.4" fill="none" stroke="#3C64B4" stroke-width="2.05" stroke-linecap="butt"/>
<text x="592.77" y="526.6" font-size="12.9" font-weight="bold" fill="#3C64B4" fill-opacity="0.52">1332 rpm</text>
<path d="M69 655.27 C75.33 654.34 94.32 651.55 106.98 649.69 C119.63 647.83 132.29 645.96 144.95 644.11 C157.61 642.27 170.27 640.49 182.93 638.63 C195.58 636.78 208.24 634.87 220.9 633 C233.56 631.13 246.22 629.37 258.88 627.42 C271.54 625.48 284.19 623.41 296.85 621.33 C309.51 619.25 322.17 617.16 334.83 614.93 C347.49 612.7 360.14 610.32 372.8 607.96 C385.46 605.61 398.12 603.26 410.78 600.8 C423.44 598.33 436.1 595.8 448.75 593.17 C461.41 590.53 474.07 587.78 486.73 584.98 C499.39 582.17 518.38 577.77 524.7 576.32" fill="none" stroke="#8E0E96" stroke-width="2.05" stroke-linecap="butt"/>
<text x="535.8" y="579.52" font-size="12.9" font-weight="bold" fill="#8E0E96" fill-opacity="0.52">1184 rpm</text>
<path d="M69 670.43 C74.54 669.81 91.15 667.94 102.23 666.69 C113.3 665.45 124.38 664.19 135.46 662.96 C146.53 661.72 157.61 660.53 168.69 659.29 C179.76 658.04 190.84 656.76 201.91 655.51 C212.99 654.26 224.07 653.08 235.14 651.77 C246.22 650.47 257.29 649.09 268.37 647.69 C279.45 646.3 290.52 644.9 301.6 643.4 C312.68 641.91 323.75 640.32 334.83 638.74 C345.9 637.16 356.98 635.59 368.06 633.94 C379.13 632.29 390.21 630.59 401.28 628.83 C412.36 627.06 423.44 625.22 434.51 623.34 C445.59 621.46 462.2 618.51 467.74 617.54" fill="none" stroke="#860A38" stroke-width="2.05" stroke-linecap="butt"/>
<text x="478.84" y="620.74" font-size="12.9" font-weight="bold" fill="#860A38" fill-opacity="0.52">1036 rpm</text>
<path d="M69 681.82 C73.75 681.43 87.99 680.26 97.48 679.47 C106.98 678.69 116.47 677.89 125.96 677.12 C135.46 676.34 144.95 675.59 154.44 674.8 C163.94 674.02 173.43 673.22 182.93 672.43 C192.42 671.64 201.91 670.9 211.41 670.07 C220.9 669.25 230.4 668.38 239.89 667.5 C249.38 666.63 258.88 665.74 268.37 664.8 C277.86 663.86 287.36 662.86 296.85 661.87 C306.35 660.87 315.84 659.88 325.33 658.84 C334.83 657.8 344.32 656.74 353.82 655.62 C363.31 654.51 372.8 653.35 382.3 652.17 C391.79 650.98 406.03 649.13 410.78 648.52" fill="none" stroke="#2FA4E2" stroke-width="2.05" stroke-linecap="butt"/>
<text x="421.88" y="651.72" font-size="12.9" font-weight="bold" fill="#2FA4E2" fill-opacity="0.52">888 rpm</text>
<path d="M69 689.99 C72.96 689.76 84.82 689.08 92.73 688.62 C100.65 688.17 108.56 687.71 116.47 687.26 C124.38 686.81 132.29 686.38 140.2 685.93 C148.12 685.47 156.03 685.01 163.94 684.55 C171.85 684.09 179.76 683.66 187.67 683.19 C195.58 682.71 203.5 682.21 211.41 681.7 C219.32 681.19 227.23 680.68 235.14 680.14 C243.05 679.59 250.97 679.01 258.88 678.44 C266.79 677.86 274.7 677.29 282.61 676.69 C290.52 676.09 298.43 675.47 306.35 674.83 C314.26 674.18 322.17 673.51 330.08 672.83 C337.99 672.14 349.86 671.06 353.82 670.71" fill="none" stroke="#D09C5C" stroke-width="2.05" stroke-linecap="butt"/>
<text x="364.92" y="673.91" font-size="12.9" font-weight="bold" fill="#D09C5C" fill-opacity="0.52">740 rpm</text>
<text x="10.5" y="208.3" font-size="13.5" font-weight="bold" fill="#4169E1">扬</text>
<text x="10.5" y="223.3" font-size="13.5" font-weight="bold" fill="#4169E1">程</text>
<text transform="translate(13.4 233.6) rotate(90)" font-size="13.5" font-weight="bold" fill="#4169E1">(m)</text>
<text x="10.5" y="553.2" font-size="13.3" font-weight="bold" fill="#C71585" stroke="#C71585" stroke-width="0.45" stroke-linejoin="round" style="font-family:'Liberation Serif','Noto Serif CJK SC',serif">功</text>
<text x="10.6" y="567.6" font-size="13.3" font-weight="bold" fill="#C71585" stroke="#C71585" stroke-width="0.45" stroke-linejoin="round" style="font-family:'Liberation Serif','Noto Serif CJK SC',serif">率</text>
<text transform="translate(19.6 607.7) rotate(-90) scale(1 0.9)" font-size="12.5" font-weight="bold" fill="#C71585" stroke="#C71585" stroke-width="0.25">(KW)</text>
<text x="342.3 356.3" y="741.6" font-size="14" font-weight="bold" fill="#000">流量</text>
<text x="374.0" y="741" font-size="14" font-weight="bold" fill="#000">(m³/h)</text>
</svg></body></html>
